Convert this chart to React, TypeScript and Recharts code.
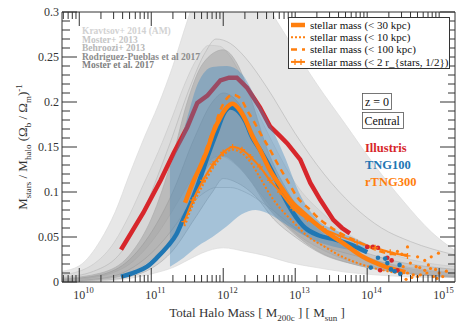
import React from 'react';
import { ComposedChart, Area, Line, Scatter, XAxis, YAxis, Legend } from 'recharts';

const W = 469;
const H = 325;
const PL = 62;
const PR = 455;
const PT = 12;
const PB = 282;
const X_MIN = 9.76;
const X_MAX = 15.22;
const SERIF = "'Liberation Serif', 'Times New Roman', 'DejaVu Serif', serif";
const AXIS = '#333';
const TEXT = '#333';
const RED = '#d7262b';
const BLUE = '#1f77b4';
const ORANGE = '#ff7f0e';

// x: log10 of total halo mass M200c [Msun]
// y: M_stars / M_halo / (Omega_b / Omega_m)
const illustrisLine = [
  [10.58, 0.036], [10.89, 0.077], [11.13, 0.113], [11.31, 0.143], [11.5, 0.172],
  [11.64, 0.199], [11.78, 0.207], [11.96, 0.224], [12.08, 0.227], [12.19, 0.227],
  [12.33, 0.216], [12.51, 0.194], [12.65, 0.173], [12.79, 0.162], [12.89, 0.154],
  [13.07, 0.136], [13.21, 0.11], [13.35, 0.091], [13.53, 0.069], [13.65, 0.06],
  [13.76, 0.054],
];

const tng100Line = [
  [10.58, 0.006], [10.78, 0.011], [10.94, 0.017], [11.08, 0.027], [11.22, 0.039],
  [11.35, 0.053], [11.44, 0.069], [11.54, 0.086], [11.64, 0.106], [11.78, 0.139],
  [11.92, 0.169], [12.0, 0.186], [12.1, 0.194], [12.19, 0.191], [12.31, 0.178],
  [12.4, 0.161], [12.51, 0.147], [12.69, 0.121], [12.83, 0.097], [12.97, 0.077],
  [13.14, 0.06], [13.32, 0.052], [13.56, 0.047], [13.79, 0.041], [14.0, 0.033],
];

// rTNG300 stellar mass apertures
const orange30 = [
  [11.47, 0.088], [11.58, 0.111], [11.68, 0.128], [11.78, 0.147], [11.86, 0.166],
  [11.96, 0.183], [12.04, 0.193], [12.13, 0.198], [12.21, 0.193], [12.31, 0.18],
  [12.4, 0.163], [12.51, 0.147], [12.65, 0.124], [12.79, 0.107], [12.93, 0.091],
  [13.11, 0.077], [13.39, 0.058], [13.67, 0.043], [13.94, 0.028], [14.22, 0.018],
  [14.53, 0.011],
];

const orange10 = [
  [11.46, 0.062], [11.58, 0.086], [11.72, 0.108], [11.86, 0.127], [12.0, 0.141],
  [12.13, 0.147], [12.26, 0.143], [12.38, 0.133], [12.51, 0.116], [12.65, 0.097],
  [12.79, 0.082], [12.97, 0.067], [13.17, 0.051], [13.39, 0.04], [13.63, 0.029],
  [13.94, 0.019], [14.22, 0.013], [14.5, 0.009],
];

const orange100 = [
  [11.47, 0.089], [11.68, 0.13], [11.86, 0.169], [12.0, 0.198], [12.13, 0.208],
  [12.24, 0.204], [12.33, 0.191], [12.42, 0.179], [12.51, 0.166], [12.65, 0.147],
  [12.75, 0.132], [12.89, 0.113], [13.03, 0.094], [13.21, 0.08], [13.35, 0.069],
  [13.49, 0.061], [13.63, 0.054], [13.81, 0.047], [14.0, 0.04], [14.18, 0.034],
  [14.36, 0.031], [14.56, 0.03],
];

const orange2r = [
  [11.46, 0.067], [11.58, 0.091], [11.72, 0.113], [11.86, 0.131], [12.0, 0.144],
  [12.13, 0.15], [12.26, 0.147], [12.38, 0.139], [12.51, 0.128], [12.65, 0.113],
  [12.79, 0.1], [12.97, 0.082], [13.17, 0.07], [13.39, 0.059], [13.63, 0.051],
  [13.86, 0.044], [14.11, 0.038], [14.32, 0.033], [14.56, 0.029],
];

const illustrisDots = [
  [14.0, 0.039], [14.08, 0.039], [14.15, 0.038], [14.28, 0.027], [14.34, 0.024],
  [14.18, 0.013], [14.42, 0.013],
];

const tng100Dots = [
  [14.15, 0.027], [14.25, 0.026], [14.28, 0.021], [14.33, 0.014], [14.45, 0.019],
  [14.46, 0.009], [14.05, 0.016], [14.38, 0.012],
];

const rtng300Dots = [
  [14.56, 0.039], [14.7, 0.028], [14.8, 0.024], [14.89, 0.028], [14.99, 0.032],
  [14.85, 0.019], [14.47, 0.013], [14.56, 0.01], [14.64, 0.008], [14.7, 0.006],
  [14.74, 0.008], [14.83, 0.01], [14.92, 0.006], [14.97, 0.004], [15.0, 0.01],
  [14.5, 0.017], [14.6, 0.021], [14.68, 0.017], [14.73, 0.016], [14.8, 0.013],
  [14.62, 0.005], [14.54, 0.003], [14.88, 0.015], [14.95, 0.014], [15.05, 0.006],
  [15.1, 0.012], [14.42, 0.034], [14.48, 0.031],
];

// scatter band of TNG100 [m, low, high]
const tng100Band = [
  [11.26, 0.017, 0.128], [11.45, 0.027, 0.169], [11.65, 0.04, 0.221], [11.85, 0.05, 0.239],
  [12.05, 0.062, 0.24], [12.25, 0.075, 0.232], [12.45, 0.08, 0.205], [12.65, 0.075, 0.175],
  [12.85, 0.065, 0.14], [13.05, 0.055, 0.1], [13.3, 0.045, 0.07], [13.6, 0.038, 0.056],
  [13.86, 0.034, 0.047], [14.0, 0.031, 0.042],
];

// literature relations [m, low, high]
const kravtsov14 = [
  [9.76, 0.0, 0.012], [10.0, 0.0, 0.018], [10.3, 0.001, 0.047], [10.5, 0.002, 0.078],
  [10.7, 0.004, 0.12], [10.9, 0.007, 0.16], [11.1, 0.011, 0.197], [11.3, 0.016, 0.24],
  [11.5, 0.024, 0.29], [11.7, 0.032, 0.335], [12.0, 0.038, 0.37], [12.3, 0.034, 0.36],
  [12.6, 0.029, 0.31], [12.9, 0.022, 0.27], [13.3, 0.016, 0.22], [13.7, 0.011, 0.175],
  [14.1, 0.008, 0.13], [14.5, 0.006, 0.09], [14.9, 0.005, 0.055], [15.22, 0.005, 0.035],
];

const behroozi13 = [
  [9.76, 0.001, 0.005], [10.2, 0.003, 0.012], [10.6, 0.01, 0.035], [10.9, 0.025, 0.08],
  [11.1, 0.04, 0.12], [11.26, 0.055, 0.154], [11.54, 0.085, 0.217], [11.75, 0.1, 0.255],
  [11.9, 0.105, 0.27], [12.1, 0.105, 0.265], [12.3, 0.1, 0.25], [12.6, 0.085, 0.217],
  [13.0, 0.06, 0.165], [13.4, 0.04, 0.12], [13.8, 0.03, 0.085], [14.2, 0.022, 0.06],
  [14.6, 0.016, 0.045], [15.22, 0.01, 0.03],
];

const moster13 = [
  [9.76, 0.002, 0.008], [10.0, 0.003, 0.012], [10.2, 0.005, 0.02], [10.45, 0.01, 0.04],
  [10.7, 0.02, 0.075], [10.9, 0.035, 0.11], [11.1, 0.055, 0.145], [11.3, 0.08, 0.185],
  [11.45, 0.1, 0.217], [11.65, 0.125, 0.25], [11.8, 0.135, 0.263], [11.95, 0.14, 0.262],
  [12.1, 0.135, 0.25], [12.3, 0.12, 0.22], [12.5, 0.1, 0.185], [12.75, 0.075, 0.145],
  [13.0, 0.055, 0.11], [13.4, 0.035, 0.075], [13.8, 0.022, 0.05], [14.2, 0.015, 0.035],
  [14.6, 0.01, 0.025], [15.22, 0.006, 0.017],
];

const moster17 = [
  [9.76, 0.001, 0.003], [10.3, 0.002, 0.008], [10.7, 0.006, 0.025], [11.0, 0.015, 0.055],
  [11.3, 0.035, 0.1], [11.6, 0.07, 0.16], [11.85, 0.1, 0.2], [12.0, 0.115, 0.21],
  [12.2, 0.11, 0.2], [12.45, 0.095, 0.16], [12.7, 0.07, 0.12], [13.0, 0.05, 0.085],
  [13.4, 0.03, 0.055], [13.8, 0.02, 0.038], [14.3, 0.012, 0.025], [15.22, 0.006, 0.014],
];

const rodriguez17 = [
  [9.76, 0.001, 0.004], [10.3, 0.003, 0.01], [10.7, 0.01, 0.03], [11.0, 0.025, 0.07],
  [11.3, 0.05, 0.14], [11.5, 0.08, 0.2], [11.72, 0.12, 0.243], [12.0, 0.14, 0.258],
  [12.19, 0.13, 0.243], [12.4, 0.11, 0.2], [12.6, 0.085, 0.15], [12.9, 0.06, 0.1],
  [13.3, 0.035, 0.06], [13.8, 0.02, 0.035], [14.3, 0.012, 0.02], [15.22, 0.005, 0.01],
];

const literatureLabels = [
  { text: 'Kravtsov+ 2014 (AM)', color: '#d2d2d2' },
  { text: 'Moster+ 2013', color: '#c6c6c6' },
  { text: 'Behroozi+ 2013', color: '#b6b6b6' },
  { text: 'Rodriguez-Pueblas et al 2017', color: '#8c8c8c' },
  { text: 'Moster et al. 2017', color: '#808080' },
];

const simLabels = [
  { text: 'Illustris', color: RED },
  { text: 'TNG100', color: BLUE },
  { text: 'rTNG300', color: ORANGE },
];

const legendRows = [
  { text: 'stellar mass (< 30 kpc)', width: 4.5, dash: undefined, cross: false },
  { text: 'stellar mass (< 10 kpc)', width: 2, dash: '2 2', cross: false },
  { text: 'stellar mass (< 100 kpc)', width: 2.5, dash: '6 5', cross: false },
  { text: 'stellar mass (< 2 r_{stars, 1/2})', width: 2, dash: undefined, cross: true },
];

const toXY = (rows: number[][]) => rows.map(([m, y]) => ({ m, y }));
const toBand = (rows: number[][]) => rows.map(([m, lo, hi]) => ({ m, r: [lo, hi] }));

const xTicks: number[] = [];
for (let n = 9; n <= 15; n++) {
  for (let k = 1; k <= 9; k++) {
    const v = n + Math.log10(k);
    if (v >= X_MIN && v <= X_MAX) xTicks.push(v);
  }
}
const yTicks = Array.from({ length: 31 }, (_, i) => i / 100);

const isDecade = (v: number) => Math.abs(v - Math.round(v)) < 1e-6;
const isMajorY = (v: number) => Math.round(v * 100) % 5 === 0;

const BottomTick = ({ payload }: any) => {
  const x = payload.coordinate;
  const major = isDecade(payload.value);
  return (
    <g>
      <line x1={x} x2={x} y1={PB} y2={PB - (major ? 14 : 7)} stroke={AXIS} />
      {major && (
        <text x={x - 6} y={299} fontFamily={SERIF} fontSize={12} fill={TEXT}>
          10<tspan dy={-6} fontSize={8.5}>{Math.round(payload.value)}</tspan>
        </text>
      )}
    </g>
  );
};

const TopTick = ({ payload }: any) => {
  const x = payload.coordinate;
  const major = isDecade(payload.value);
  return <line x1={x} x2={x} y1={PT} y2={PT + (major ? 14 : 7)} stroke={AXIS} />;
};

const LeftTick = ({ payload }: any) => {
  const y = payload.coordinate;
  const major = isMajorY(payload.value);
  return (
    <g>
      <line x1={PL} x2={PL + (major ? 15 : 8)} y1={y} y2={y} stroke={AXIS} />
      {major && (
        <text x={PL - 3} y={y + 4} textAnchor="end" fontFamily={SERIF} fontSize={12} fill={TEXT}>
          {String(Math.round(payload.value * 100) / 100)}
        </text>
      )}
    </g>
  );
};

const RightTick = ({ payload }: any) => {
  const y = payload.coordinate;
  const major = isMajorY(payload.value);
  return <line x1={PR} x2={PR - (major ? 15 : 7)} y1={y} y2={y} stroke={AXIS} />;
};

const CrossDot = (p: any) => (
  <path
    key={`c${p.index}`}
    d={`M${p.cx - 3},${p.cy}h6M${p.cx},${p.cy - 3}v6`}
    stroke={ORANGE}
    strokeWidth={1.3}
  />
);

const dotShape = (color: string, r: number) => (p: any) =>
  <circle cx={p.cx} cy={p.cy} r={r} fill={color} />;

const LegendBox = () => (
  <svg width={163} height={53} style={{ display: 'block' }}>
    <rect x={0.5} y={0.5} width={161} height={51} fill="#fff" stroke={AXIS} />
    {legendRows.map((row, i) => {
      const cy = 8 + i * 12.3;
      return (
        <g key={row.text}>
          <line x1={3} x2={17} y1={cy} y2={cy} stroke={ORANGE} strokeWidth={row.width} strokeDasharray={row.dash} />
          {row.cross && (
            <path d={`M7,${cy - 3}v6M13,${cy - 3}v6`} stroke={ORANGE} strokeWidth={1.3} />
          )}
          <text x={22} y={cy + 3.8} fontFamily={SERIF} fontSize={11} fill="#111">{row.text}</text>
        </g>
      );
    })}
  </svg>
);

const bandProps = {
  dataKey: 'r',
  type: 'monotone' as const,
  isAnimationActive: false,
  dot: false,
  activeDot: false,
};

const App = () => {
  return (
    <div style={{ position: 'absolute', left: 0, top: 0, width: W, height: H, background: '#fff' }}>
      <ComposedChart
        width={W}
        height={H}
        margin={{ top: PT - 1, right: W - PR - 1, bottom: H - PB - 1, left: PL - 1 }}
      >
        <XAxis
          dataKey="m" type="number" domain={[X_MIN, X_MAX]} allowDataOverflow
          ticks={xTicks} interval={0} height={1} tickLine={false} tick={BottomTick}
          axisLine={{ stroke: AXIS }}
        />
        <XAxis
          xAxisId="top" orientation="top" dataKey="m" type="number" domain={[X_MIN, X_MAX]}
          allowDataOverflow ticks={xTicks} interval={0} height={1} tickLine={false}
          tick={TopTick} axisLine={{ stroke: AXIS }}
        />
        <YAxis
          type="number" domain={[0, 0.3]} allowDataOverflow ticks={yTicks} interval={0}
          width={1} tickLine={false} tick={LeftTick} axisLine={{ stroke: AXIS }}
        />
        <YAxis
          yAxisId="right" orientation="right" type="number" domain={[0, 0.3]} allowDataOverflow
          ticks={yTicks} interval={0} width={1} tickLine={false} tick={RightTick}
          axisLine={{ stroke: AXIS }}
        />

        <Area {...bandProps} data={toBand(kravtsov14)} fill="#cfcfcf" fillOpacity={0.5} stroke="#d6d6d6" strokeWidth={0.6} />
        <Area {...bandProps} data={toBand(behroozi13)} fill="#c4c4c4" fillOpacity={0.18} stroke="#b4b4b4" strokeWidth={0.6} />
        <Area {...bandProps} data={toBand(moster13)} fill="#b8b8b8" fillOpacity={0.22} stroke="#c6c6c6" strokeWidth={0.6} />
        <Area {...bandProps} data={toBand(moster17)} fill="#8c8c8c" fillOpacity={0.22} stroke="#aaa" strokeWidth={0.6} />
        <Area {...bandProps} data={toBand(rodriguez17)} fill="#7a7a7a" fillOpacity={0.3} stroke="#aaa" strokeWidth={0.6} />

        <Line data={toXY(illustrisLine)} dataKey="y" stroke={RED} strokeWidth={4.5} dot={false} activeDot={false} isAnimationActive={false} zIndex={150} />

        <Area {...bandProps} data={toBand(tng100Band)} fill="#3a86c0" fillOpacity={0.38} stroke="none" zIndex={200} />

        <Line data={toXY(tng100Line)} dataKey="y" type="monotone" stroke={BLUE} strokeWidth={4.5} dot={false} activeDot={false} isAnimationActive={false} />
        <Line data={toXY(orange10)} dataKey="y" type="monotone" stroke={ORANGE} strokeWidth={2} strokeDasharray="2 2" dot={false} activeDot={false} isAnimationActive={false} />
        <Line data={toXY(orange2r)} dataKey="y" type="monotone" stroke={ORANGE} strokeWidth={2} dot={CrossDot} activeDot={false} isAnimationActive={false} />
        <Line data={toXY(orange100)} dataKey="y" type="monotone" stroke={ORANGE} strokeWidth={2.5} strokeDasharray="6 5" dot={false} activeDot={false} isAnimationActive={false} />
        <Line data={toXY(orange30)} dataKey="y" type="monotone" stroke={ORANGE} strokeWidth={4.5} dot={false} activeDot={false} isAnimationActive={false} />

        <Scatter data={toXY(rtng300Dots)} dataKey="y" shape={dotShape(ORANGE, 1.6)} isAnimationActive={false} />
        <Scatter data={toXY(illustrisDots)} dataKey="y" shape={dotShape(RED, 2.3)} isAnimationActive={false} />
        <Scatter data={toXY(tng100Dots)} dataKey="y" shape={dotShape(BLUE, 2.3)} isAnimationActive={false} />

        <Legend
          layout="vertical" align="center" verticalAlign="middle"
          wrapperStyle={{ left: 288, top: 17, width: 163, height: 53 }}
          content={LegendBox}
        />
      </ComposedChart>

      <svg
        width={W} height={H}
        style={{ position: 'absolute', left: 0, top: 0, pointerEvents: 'none' }}
        fontFamily={SERIF}
      >
        {literatureLabels.map((l, i) => (
          <text key={l.text} x={82} y={34 + i * 8.6} fontSize={9.5} fontWeight="bold" fill={l.color}>
            {l.text}
          </text>
        ))}

        <rect x={362.5} y={93.5} width={29} height={16} fill="#fff" stroke="#555" strokeWidth={0.8} />
        <text x={365} y={106} fontSize={12} fill="#111">z = 0</text>
        <rect x={362.5} y={112.5} width={41} height={16} fill="#fff" stroke="#555" strokeWidth={0.8} />
        <text x={364.5} y={125} fontSize={12} fill="#111">Central</text>

        {simLabels.map((l, i) => (
          <text key={l.text} x={365} y={152 + i * 17} fontSize={12.5} fontWeight="bold" fill={l.color}>
            {l.text}
          </text>
        ))}

        <text transform="translate(27,147) rotate(-90)" textAnchor="middle" fontSize={13} fill={TEXT}>
          M<tspan dy={4} fontSize={9}>stars</tspan>
          <tspan dy={-4}> / M</tspan><tspan dy={4} fontSize={9}>halo</tspan>
          <tspan dy={-4}> (Ω</tspan><tspan dy={4} fontSize={9}>b</tspan>
          <tspan dy={-4}> / Ω</tspan><tspan dy={4} fontSize={9}>m</tspan>
          <tspan dy={-4}>)</tspan><tspan dy={-5} fontSize={9}>-1</tspan>
        </text>

        <text x={257} y={317} textAnchor="middle" fontSize={13} fill={TEXT}>
          Total Halo Mass [ M<tspan dy={4} fontSize={9}>200c</tspan>
          <tspan dy={-4}> ] [ M</tspan><tspan dy={4} fontSize={9}>sun</tspan>
          <tspan dy={-4}> ]</tspan>
        </text>
      </svg>
    </div>
  );
};

export default App;
